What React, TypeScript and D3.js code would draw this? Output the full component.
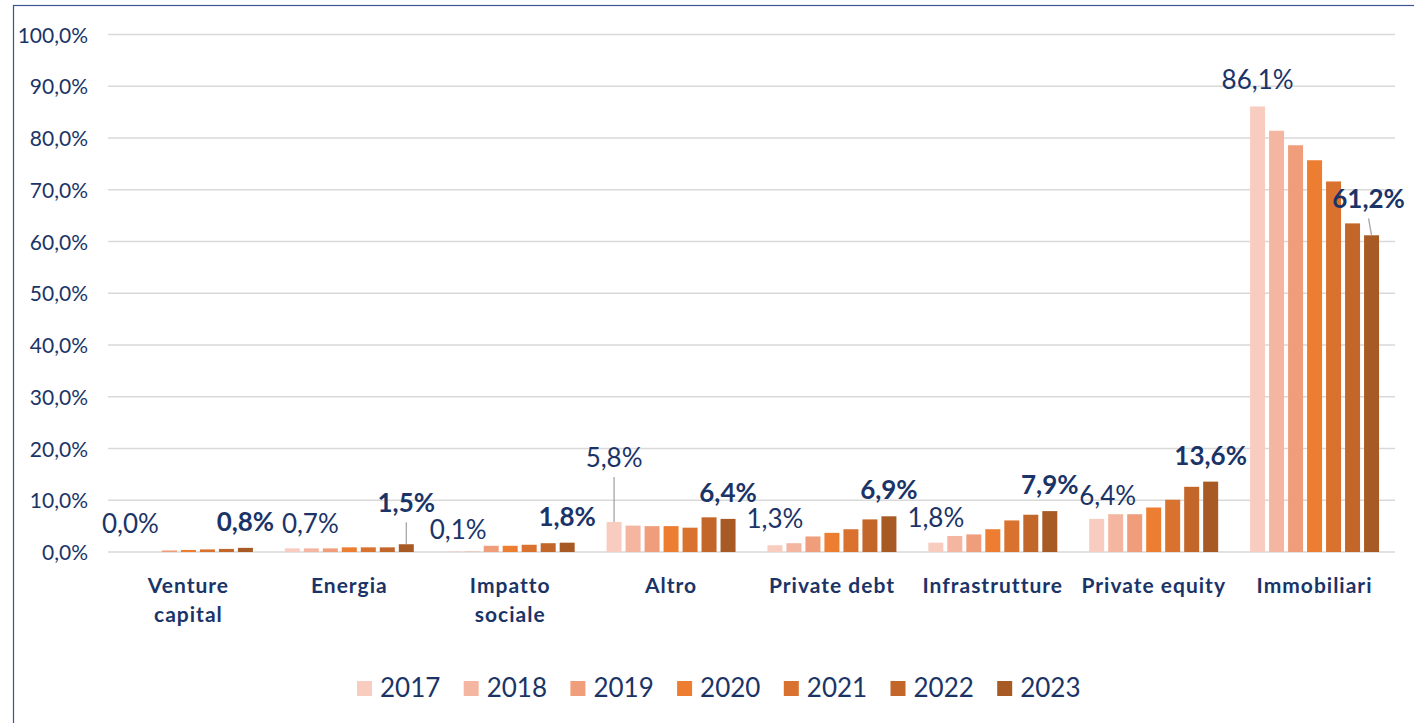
import React from "react";
import * as d3 from "d3";

const categories = [
  "Venture capital",
  "Energia",
  "Impatto sociale",
  "Altro",
  "Private debt",
  "Infrastrutture",
  "Private equity",
  "Immobiliari",
];
const categoryLines = [
  ["Venture", "capital"],
  ["Energia"],
  ["Impatto", "sociale"],
  ["Altro"],
  ["Private debt"],
  ["Infrastrutture"],
  ["Private equity"],
  ["Immobiliari"],
];
const years = ["2017", "2018", "2019", "2020", "2021", "2022", "2023"];

// values per year, in category order
const v2017 = [0.0, 0.7, 0.1, 5.8, 1.3, 1.8, 6.4, 86.1];
const v2018 = [0.0, 0.7, 0.1, 5.1, 1.7, 3.1, 7.3, 81.4];
const v2019 = [0.3, 0.7, 1.2, 5.0, 3.0, 3.4, 7.3, 78.6];
const v2020 = [0.4, 0.9, 1.2, 5.0, 3.7, 4.4, 8.6, 75.7];
const v2021 = [0.5, 0.9, 1.4, 4.7, 4.4, 6.1, 10.1, 71.6];
const v2022 = [0.6, 0.9, 1.7, 6.7, 6.3, 7.2, 12.6, 63.5];
const v2023 = [0.8, 1.5, 1.8, 6.4, 6.9, 7.9, 13.6, 61.2];
const seriesValues = [v2017, v2018, v2019, v2020, v2021, v2022, v2023];

const yTicks = [0, 10, 20, 30, 40, 50, 60, 70, 80, 90, 100];

const colors = ["#F8CCBF", "#F4B6A1", "#F09D7B", "#ED7D31", "#D9722F", "#C3662A", "#A85A25"];

// label nudges (layout only): [dx, dy] for first-year and last-year labels
const firstNudge = [[-1, -2], [18, 2], [5, 5], [0, -38], [0, 0], [0, 1], [11, 3], [0, 0]];
const lastNudge = [[0, 0], [0, -15], [0, 0], [0, 0], [0, 0], [0, 0], [0, 0], [-3, -10]];

const navy = "#1B3468";
const font = "Lato, 'Noto Sans', sans-serif";

const fmt = (v: number) => v.toFixed(1).replace(".", ",") + "%";

export default function App() {
  const W = 1414, H = 723;
  const x0 = d3.scaleBand<string>().domain(categories).range([108, 1395]).padding(0);
  const bw = x0.bandwidth();
  const x1 = d3
    .scaleBand<string>()
    .domain(years)
    .range([0, bw])
    .paddingInner(4 / 19)
    .paddingOuter(0.84);
  const y = d3.scaleLinear().domain([0, 100]).range([552, 34.5]);

  const labels: any[] = [];
  categories.forEach((c, ci) => {
    [0, years.length - 1].forEach((si) => {
      const v = seriesValues[si][ci];
      const nudge = si === 0 ? firstNudge[ci] : lastNudge[ci];
      const bx = (x0(c) as number) + (x1(years[si]) as number) + x1.bandwidth() / 2;
      const by = y(v);
      const lx = bx + nudge[0];
      const ly = by - 17 + nudge[1];
      labels.push({ key: c + si, bx, by, lx, ly, text: fmt(v), bold: si !== 0, leader: nudge[1] < -8 });
    });
  });

  return (
    <svg
      width={W}
      height={H}
      style={{ position: "absolute", left: 0, top: 0, background: "#fff" }}
      fontFamily={font}
    >
      <rect x={13.5} y={5.5} width={1500} height={900} fill="#fff" stroke="#3B5590" strokeWidth={1.2} />
      {yTicks.map((t) => (
        <g key={t}>
          <line x1={108} x2={1395} y1={y(t)} y2={y(t)} stroke="#D9D9D9" strokeWidth={1.5} />
          <text x={88} y={y(t) + 8} textAnchor="end" fontSize={21} fill={navy}>
            {fmt(t)}
          </text>
        </g>
      ))}
      {categories.map((c, ci) => (
        <g key={c} transform={`translate(${x0(c)},0)`}>
          {years.map((yr, si) => {
            const v = seriesValues[si][ci];
            return (
              <rect
                key={yr}
                x={x1(yr)}
                y={y(v)}
                width={x1.bandwidth()}
                height={y(0) - y(v)}
                fill={colors[si]}
              />
            );
          })}
        </g>
      ))}
      {labels.map((l) => (
        <g key={l.key}>
          {l.leader && (
            <line x1={l.lx} y1={l.ly + 10} x2={l.bx} y2={l.by} stroke="#A6A6A6" strokeWidth={1.3} />
          )}
          <text
            x={l.lx}
            y={l.ly}
            textAnchor="middle"
            fontSize={26}
            fontWeight={l.bold ? 700 : 400}
            fill={navy}
          >
            {l.text}
          </text>
        </g>
      ))}
      {categories.map((c, ci) => (
        <text
          key={c}
          x={(x0(c) as number) + bw / 2}
          y={592.5}
          textAnchor="middle"
          fontSize={21}
          fontWeight={700}
          letterSpacing={1}
          fill={navy}
        >
          {categoryLines[ci].map((ln, li) => (
            <tspan key={li} x={(x0(c) as number) + bw / 2} dy={li === 0 ? 0 : 29}>
              {ln}
            </tspan>
          ))}
        </text>
      ))}
      {years.map((yr, si) => (
        <g key={yr} transform={`translate(${357 + si * 106.7},0)`}>
          <rect x={0} y={681} width={15} height={15} fill={colors[si]} />
          <text x={23} y={696.5} fontSize={26} fill={navy}>
            {yr}
          </text>
        </g>
      ))}
    </svg>
  );
}
